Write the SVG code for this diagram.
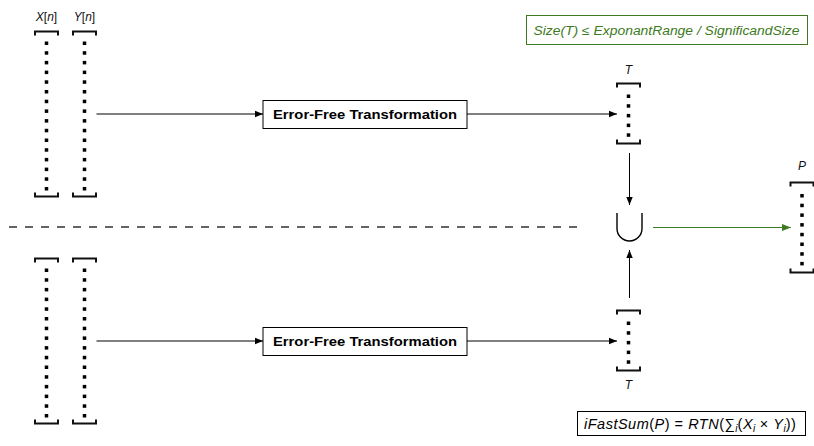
<svg xmlns="http://www.w3.org/2000/svg" width="814" height="446" viewBox="0 0 814 446">
  <style>
    .br { fill: none; stroke: #111; stroke-width: 2; }
    .dot { fill: #000; }
    .ln { fill: none; stroke: #000; stroke-width: 1; }
    .gln { fill: none; stroke: #3d7a22; stroke-width: 1.2; }
    .dash { fill: none; stroke: #333; stroke-width: 1.3; stroke-dasharray: 8 8; }
    .lbl { font-family: "Liberation Sans", Arial, sans-serif; font-style: italic; font-size: 12px; fill: #111; text-anchor: middle; }
    .box { fill: #fff; stroke: #000; stroke-width: 1; }
    .boxt { font-family: "Liberation Sans", Arial, sans-serif; font-weight: bold; font-size: 12.5px; fill: #000; text-anchor: middle; }
    .gbox { fill: #fff; stroke: #3d7a22; stroke-width: 1; }
    .gt { font-family: "Liberation Sans", Arial, sans-serif; font-style: italic; font-size: 12.5px; fill: #3d7a22; text-anchor: middle; }
    .ft { font-family: "Liberation Sans", Arial, sans-serif; font-style: italic; font-size: 14.5px; letter-spacing: 0.5px; fill: #000; }
    .up { font-style: normal; }
    .sub { font-size: 10px; letter-spacing: 0; }
  </style>
  <defs>
    <marker id="ah" viewBox="0 0 10 10" refX="10" refY="5" markerWidth="8" markerHeight="8" markerUnits="userSpaceOnUse" orient="auto">
      <path d="M0,1 L10,5 L0,9 Z" fill="#000"/>
    </marker>
    <marker id="gah" viewBox="0 0 10 10" refX="10" refY="5" markerWidth="9" markerHeight="9" markerUnits="userSpaceOnUse" orient="auto">
      <path d="M0,1 L10,5 L0,9 Z" fill="#3d7a22"/>
    </marker>
    <!-- dotted column body: 16 cells -->
    <g id="dots16">
      <rect class="dot" x="-1.75" y="0" width="3.5" height="3.5"/>
      <rect class="dot" x="-1.75" y="9.7" width="3.5" height="3.5"/>
      <rect class="dot" x="-1.75" y="19.4" width="3.5" height="3.5"/>
      <rect class="dot" x="-1.75" y="29.1" width="3.5" height="3.5"/>
      <rect class="dot" x="-1.75" y="38.8" width="3.5" height="3.5"/>
      <rect class="dot" x="-1.75" y="48.5" width="3.5" height="3.5"/>
      <rect class="dot" x="-1.75" y="58.2" width="3.5" height="3.5"/>
      <rect class="dot" x="-1.75" y="67.9" width="3.5" height="3.5"/>
      <rect class="dot" x="-1.75" y="77.6" width="3.5" height="3.5"/>
      <rect class="dot" x="-1.75" y="87.3" width="3.5" height="3.5"/>
      <rect class="dot" x="-1.75" y="97" width="3.5" height="3.5"/>
      <rect class="dot" x="-1.75" y="106.7" width="3.5" height="3.5"/>
      <rect class="dot" x="-1.75" y="116.4" width="3.5" height="3.5"/>
      <rect class="dot" x="-1.75" y="126.1" width="3.5" height="3.5"/>
      <rect class="dot" x="-1.75" y="135.8" width="3.5" height="3.5"/>
      <rect class="dot" x="-1.75" y="145.5" width="3.5" height="3.5"/>
    </g>
    <g id="col16">
      <path class="br" d="M-11.5,4 V0 H11.5 V4"/>
      <use href="#dots16" y="10"/>
      <path class="br" d="M-11.5,161 V165 H11.5 V161"/>
    </g>
    <g id="col5">
      <path class="br" d="M-11.5,4 V0 H11.5 V4"/>
      <rect class="dot" x="-1.75" y="11" width="3.5" height="3.5"/>
      <rect class="dot" x="-1.75" y="20.7" width="3.5" height="3.5"/>
      <rect class="dot" x="-1.75" y="30.4" width="3.5" height="3.5"/>
      <rect class="dot" x="-1.75" y="40.1" width="3.5" height="3.5"/>
      <rect class="dot" x="-1.75" y="49.8" width="3.5" height="3.5"/>
      <path class="br" d="M-11.5,56 V60 H11.5 V56"/>
    </g>
  </defs>

  <!-- input vectors, upper half -->
  <g id="x-upper">
    <text class="lbl" x="46.5" y="21">X<tspan class="up">[</tspan>n<tspan class="up">]</tspan></text>
    <use href="#col16" x="46.5" y="31.5"/>
  </g>
  <g id="y-upper">
    <text class="lbl" x="84.5" y="21">Y<tspan class="up">[</tspan>n<tspan class="up">]</tspan></text>
    <use href="#col16" x="84.5" y="31.5"/>
  </g>

  <!-- input vectors, lower half -->
  <g id="x-lower">
    <use href="#col16" x="46.5" y="258.5"/>
  </g>
  <g id="y-lower">
    <use href="#col16" x="84.5" y="258.5"/>
  </g>

  <!-- constraint note -->
  <g id="size-note">
    <rect class="gbox" x="526.5" y="15.5" width="281" height="29"/>
    <text class="gt" x="666.5" y="34.5" textLength="266" lengthAdjust="spacingAndGlyphs">Size(T) <tspan class="up">≤</tspan> ExponantRange / SignificandSize</text>
  </g>

  <!-- EFT blocks -->
  <g id="eft-upper">
    <rect class="box" x="263" y="100.5" width="204" height="28"/>
    <text class="boxt" x="365" y="119" textLength="184" lengthAdjust="spacingAndGlyphs">Error-Free Transformation</text>
  </g>
  <g id="eft-lower">
    <rect class="box" x="263" y="327.5" width="204" height="28"/>
    <text class="boxt" x="365" y="346" textLength="184" lengthAdjust="spacingAndGlyphs">Error-Free Transformation</text>
  </g>

  <!-- partial results T -->
  <g id="t-upper">
    <text class="lbl" x="628.5" y="74">T</text>
    <use href="#col5" x="628.5" y="83.5"/>
  </g>
  <g id="t-lower">
    <use href="#col5" x="628.5" y="310.5"/>
    <text class="lbl" x="628.5" y="389">T</text>
  </g>

  <!-- union -->
  <g id="union">
    <path d="M617,213 V228.5 A12.5,12.5 0 0 0 642,228.5 V213" fill="none" stroke="#000" stroke-width="1.4"/>
  </g>

  <!-- result P -->
  <g id="p-out">
    <text class="lbl" x="802" y="170">P</text>
    <path class="br" d="M790.5,186.5 V182.5 H813.5 V186.5"/>
    <rect class="dot" x="800.25" y="194" width="3.5" height="3.5"/>
    <rect class="dot" x="800.25" y="203.7" width="3.5" height="3.5"/>
    <rect class="dot" x="800.25" y="213.4" width="3.5" height="3.5"/>
    <rect class="dot" x="800.25" y="223.1" width="3.5" height="3.5"/>
    <rect class="dot" x="800.25" y="232.8" width="3.5" height="3.5"/>
    <rect class="dot" x="800.25" y="242.5" width="3.5" height="3.5"/>
    <rect class="dot" x="800.25" y="252.2" width="3.5" height="3.5"/>
    <rect class="dot" x="800.25" y="261.9" width="3.5" height="3.5"/>
    <path class="br" d="M790.5,268.5 V272.5 H813.5 V268.5"/>
  </g>

  <!-- result formula -->
  <g id="formula">
    <rect class="box" x="577.5" y="411.5" width="228" height="24"/>
    <text class="ft" x="584" y="428.5">iFastSum<tspan class="up">(</tspan>P<tspan class="up">) = </tspan>RTN<tspan class="up">(∑</tspan><tspan class="sub" dy="3">i</tspan><tspan class="up" dy="-3">(</tspan>X<tspan class="sub" dy="3">i</tspan><tspan class="up" dy="-3"> × </tspan>Y<tspan class="sub" dy="3">i</tspan><tspan class="up" dy="-3">))</tspan></text>
  </g>

  <!-- connectors -->
  <g id="connectors">
    <path class="dash" d="M9,227 H580"/>
    <path class="ln" d="M96.5,114 H263" marker-end="url(#ah)"/>
    <path class="ln" d="M467,114 H617" marker-end="url(#ah)"/>
    <path class="ln" d="M96.5,341 H263" marker-end="url(#ah)"/>
    <path class="ln" d="M467,341 H617" marker-end="url(#ah)"/>
    <path class="ln" d="M629.5,153 V205" marker-end="url(#ah)"/>
    <path class="ln" d="M629.5,298 V250" marker-end="url(#ah)"/>
    <path class="gln" d="M653,227.5 H791" marker-end="url(#gah)"/>
  </g>
</svg>
